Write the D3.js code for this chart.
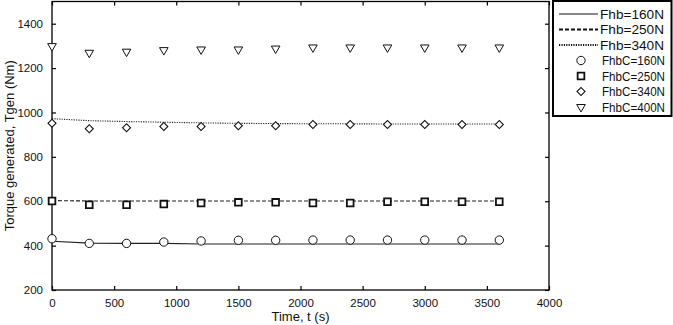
<!DOCTYPE html>
<html>
<head>
<meta charset="utf-8">
<script src="https://cdn.jsdelivr.net/npm/d3@7"></script>
<style>
  body { margin: 0; background: #fff; }
  svg { display: block; font-family: "Liberation Sans", Arial, sans-serif; }
</style>
</head>
<body>
<svg id="grafico" width="673" height="325"></svg>
<script>
// tempos (s) onde ficam os pontos
const times = [0, 300, 600, 900, 1200, 1500, 1800, 2100, 2400, 2700, 3000, 3300, 3600];

// linhas (simulação)
const fhb160 = [420, 411, 410, 410, 407, 407, 407, 407, 407, 407, 407, 407, 407];
const fhb250 = [603, 601, 601, 601, 601, 601, 601, 601, 601, 601, 601, 601, 601];
const fhb340 = [972, 963, 959, 956, 953, 951, 950, 949, 949, 948, 948, 948, 948];

// marcadores (calculado)
const fhbC160 = [431, 410, 410, 416, 421, 424, 424, 425, 425, 425, 425, 425, 425];
const fhbC250 = [601, 584, 584, 587, 592, 595, 595, 592, 592, 598, 598, 598, 598];
const fhbC340 = [951, 927, 931, 937, 937, 940, 940, 946, 946, 946, 946, 946, 946];
const fhbC400 = [1299, 1269, 1274, 1281, 1284, 1284, 1288, 1293, 1293, 1293, 1293, 1293, 1293];

const xTicks = [0, 500, 1000, 1500, 2000, 2500, 3000, 3500, 4000];
const yTicks = [200, 400, 600, 800, 1000, 1200, 1400];

const lineSeries = [
  {name: "Fhb=160N", values: fhb160, dash: null},
  {name: "Fhb=250N", values: fhb250, dash: "4,2"},
  {name: "Fhb=340N", values: fhb340, dash: "1.2,1.2"}
];
const markerSeries = [
  {name: "FhbC=160N", values: fhbC160, type: d3.symbolCircle, size: 55, rot: 0, sw: 1},
  {name: "FhbC=250N", values: fhbC250, type: d3.symbolSquare, size: 45, rot: 0, sw: 1.8},
  {name: "FhbC=340N", values: fhbC340, type: d3.symbolSquare, size: 32, rot: 45, sw: 1.1},
  {name: "FhbC=400N", values: fhbC400, type: d3.symbolTriangle, size: 32, rot: 180, sw: 1}
];

const margin = {top: 1.5, left: 52, right: 124, bottom: 35};
const width = 673, height = 325;
const svg = d3.select("#grafico");

const x = d3.scaleLinear().domain([0, 4000]).range([margin.left, width - margin.right]);
const y = d3.scaleLinear().domain([200, 1500]).range([height - margin.bottom, margin.top]);

// caixa do gráfico
svg.append("rect")
  .attr("x", x(0)).attr("y", y(1500))
  .attr("width", x(4000) - x(0)).attr("height", y(200) - y(1500))
  .attr("fill", "none").attr("stroke", "#000").attr("stroke-width", 1.3);

// eixos
const fmt = d3.format("d");
const axisStyle = g => {
  g.select(".domain").remove();
  g.selectAll(".tick line").attr("stroke", "#000").attr("stroke-width", 1.2);
  g.selectAll(".tick text").style("font-size", "11.5px").attr("fill", "#111");
};
svg.append("g").attr("transform", `translate(0,${y(200)})`)
  .call(d3.axisBottom(x).tickValues(xTicks).tickFormat(fmt).tickSizeInner(-4).tickPadding(9))
  .call(axisStyle);
svg.append("g").attr("transform", `translate(0,${y(1500)})`)
  .call(d3.axisTop(x).tickValues(xTicks).tickFormat("").tickSizeInner(-4))
  .call(axisStyle);
svg.append("g").attr("transform", `translate(${x(0)},0)`)
  .call(d3.axisLeft(y).tickValues(yTicks).tickFormat(fmt).tickSizeInner(-4).tickPadding(9))
  .call(axisStyle);
svg.append("g").attr("transform", `translate(${x(4000)},0)`)
  .call(d3.axisRight(y).tickValues(yTicks).tickFormat("").tickSizeInner(-4))
  .call(axisStyle);

// títulos
svg.append("text")
  .attr("x", (x(0) + x(4000)) / 2).attr("y", 321)
  .attr("text-anchor", "middle").style("font-size", "13px").attr("fill", "#111")
  .text("Time, t (s)");
svg.append("text")
  .attr("transform", `translate(14,${(y(200) + y(1500)) / 2}) rotate(-90)`)
  .attr("text-anchor", "middle").style("font-size", "13px").attr("fill", "#111")
  .text("Torque generated, Tgen (Nm)");

// linhas
const line = d3.line().x((d, i) => x(times[i])).y(d => y(d));
lineSeries.forEach(s => {
  svg.append("path")
    .attr("d", line(s.values))
    .attr("fill", "none").attr("stroke", "#222").attr("stroke-width", 1.1)
    .attr("stroke-dasharray", s.dash);
});

// marcadores
markerSeries.forEach(s => {
  const sym = d3.symbol().type(s.type).size(s.size);
  svg.append("g").selectAll("path")
    .data(s.values)
    .enter().append("path")
    .attr("d", sym)
    .attr("transform", (d, i) => `translate(${x(times[i])},${y(d)}) rotate(${s.rot})`)
    .attr("fill", "#fff").attr("stroke", "#111").attr("stroke-width", s.sw);
});

// legenda
const leg = svg.append("g");
leg.append("rect")
  .attr("x", 553).attr("y", 1).attr("width", 118.5).attr("height", 115)
  .attr("fill", "#fff").attr("stroke", "#000").attr("stroke-width", 2);
const rowY = i => 14 + i * 15.5;
lineSeries.forEach((s, i) => {
  leg.append("line")
    .attr("x1", 559).attr("x2", 598).attr("y1", rowY(i)).attr("y2", rowY(i))
    .attr("stroke", "#111").attr("stroke-width", s.dash ? 1.8 : 1.1)
    .attr("stroke-dasharray", s.dash);
  leg.append("text").attr("x", 600).attr("y", rowY(i) + 4.5)
    .style("font-size", "13px").attr("fill", "#111")
    .attr("textLength", 64).attr("lengthAdjust", "spacingAndGlyphs")
    .text(s.name);
});
markerSeries.forEach((s, j) => {
  const i = j + 3;
  leg.append("path")
    .attr("d", d3.symbol().type(s.type).size(s.size))
    .attr("transform", `translate(581,${rowY(i)}) rotate(${s.rot})`)
    .attr("fill", "#fff").attr("stroke", "#111").attr("stroke-width", s.sw);
  leg.append("text").attr("x", 602).attr("y", rowY(i) + 4.5)
    .style("font-size", "13px").attr("fill", "#111")
    .attr("textLength", 63).attr("lengthAdjust", "spacingAndGlyphs")
    .text(s.name);
});
</script>
</body>
</html>
